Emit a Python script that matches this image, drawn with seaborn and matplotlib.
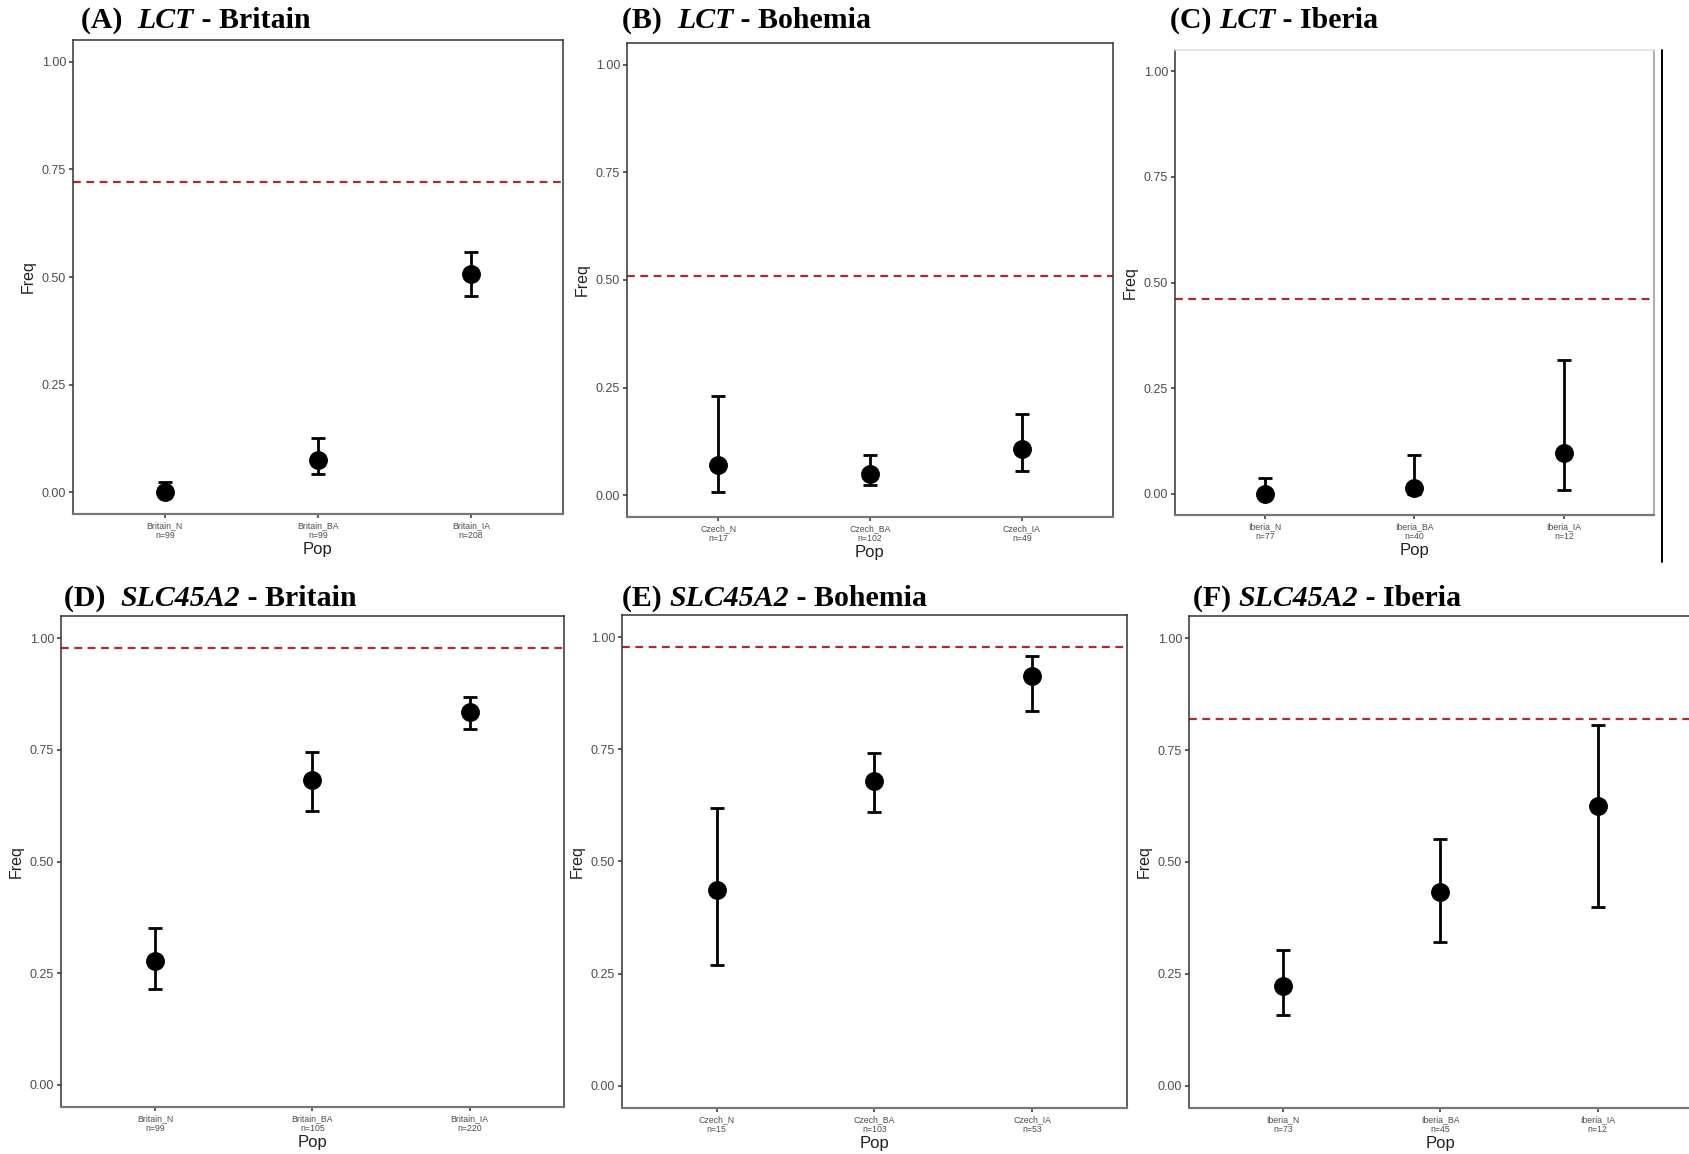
import matplotlib
matplotlib.use("Agg")
import matplotlib.pyplot as plt
import seaborn as sns
import pandas as pd
import numpy as np
from matplotlib.lines import Line2D

sns.set_theme(style="white")
plt.rcParams['font.family'] = ['Liberation Sans', 'DejaVu Sans']

# ---------------- data ----------------
panel_letters = ["A", "B", "C", "D", "E", "F"]
panel_genes = ["LCT", "LCT", "LCT", "SLC45A2", "SLC45A2", "SLC45A2"]
panel_regions = ["Britain", "Bohemia", "Iberia", "Britain", "Bohemia", "Iberia"]
panel_gaps = ["  ", "  ", " ", "  ", " ", " "]

pops_A = ["Britain_N\nn=99", "Britain_BA\nn=99", "Britain_IA\nn=208"]
freq_A = [0.0, 0.075, 0.506]
low_A = [0.0, 0.042, 0.456]
high_A = [0.025, 0.127, 0.559]
ref_A = 0.72

pops_B = ["Czech_N\nn=17", "Czech_BA\nn=102", "Czech_IA\nn=49"]
freq_B = [0.070, 0.050, 0.107]
low_B = [0.007, 0.025, 0.057]
high_B = [0.231, 0.095, 0.190]
ref_B = 0.51

pops_C = ["Iberia_N\nn=77", "Iberia_BA\nn=40", "Iberia_IA\nn=12"]
freq_C = [0.0, 0.013, 0.096]
low_C = [0.0, 0.0, 0.010]
high_C = [0.038, 0.091, 0.317]
ref_C = 0.462

pops_D = ["Britain_N\nn=99", "Britain_BA\nn=105", "Britain_IA\nn=220"]
freq_D = [0.278, 0.683, 0.835]
low_D = [0.215, 0.613, 0.797]
high_D = [0.351, 0.746, 0.869]
ref_D = 0.978

pops_E = ["Czech_N\nn=15", "Czech_BA\nn=103", "Czech_IA\nn=53"]
freq_E = [0.436, 0.680, 0.913]
low_E = [0.270, 0.610, 0.836]
high_E = [0.619, 0.742, 0.959]
ref_E = 0.978

pops_F = ["Iberia_N\nn=73", "Iberia_BA\nn=45", "Iberia_IA\nn=12"]
freq_F = [0.222, 0.432, 0.626]
low_F = [0.157, 0.321, 0.399]
high_F = [0.304, 0.551, 0.807]
ref_F = 0.819

panels = [
    (pops_A, freq_A, low_A, high_A, ref_A),
    (pops_B, freq_B, low_B, high_B, ref_B),
    (pops_C, freq_C, low_C, high_C, ref_C),
    (pops_D, freq_D, low_D, high_D, ref_D),
    (pops_E, freq_E, low_E, high_E, ref_E),
    (pops_F, freq_F, low_F, high_F, ref_F),
]

# ---------------- layout (pixel boxes: left, right, top, bottom) ----------------
W, H = 1690, 1154
boxes = [
    (73, 563, 40, 514),
    (627, 1113, 43, 517),
    (1175, 1654, 50, 515),
    (61, 564, 616, 1107),
    (622, 1127, 615, 1108),
    (1189, 1692, 616, 1108),
]
title_pos = [(81, 21), (622, 21), (1170, 21), (64, 599), (622, 599), (1193, 599)]

fig = plt.figure(figsize=(W / 100, H / 100), dpi=100)
fig.patch.set_facecolor("white")

red = "#B8262E"
grey_txt = "#4D4D4D"

for i, (pops, freq, low, high, ref) in enumerate(panels):
    l, r, t, b = boxes[i]
    ax = fig.add_axes([l / W, 1 - b / H, (r - l) / W, (b - t) / H])
    df = pd.DataFrame({"Pop": pops, "Freq": freq, "low": low, "high": high})
    df["x"] = np.arange(len(df))
    ax.axhline(ref, color=red, linestyle=(0, (3.5, 2.5)), linewidth=1.6, zorder=1)
    ax.errorbar(df["x"], df["Freq"],
                yerr=[df["Freq"] - df["low"], df["high"] - df["Freq"]],
                fmt="none", ecolor="black", elinewidth=2, capsize=5, capthick=2, zorder=2)
    sns.scatterplot(data=df, x="x", y="Freq", s=185, color="black", edgecolor="black",
                    linewidth=0, ax=ax, zorder=3, legend=False)
    ax.set_xlim(-0.6, 2.6)
    ax.set_ylim(-0.05, 1.05)
    ax.set_xticks(df["x"])
    ax.set_xticklabels(pops, fontsize=6.3, color=grey_txt, linespacing=1.1)
    ax.set_yticks([0, 0.25, 0.5, 0.75, 1.0])
    ax.set_yticklabels(["0.00", "0.25", "0.50", "0.75", "1.00"], fontsize=9, color=grey_txt)
    ax.tick_params(axis="both", which="both", length=3, width=1.1, color="#333333",
                   bottom=True, left=True, pad=2)
    ax.set_xlabel("Pop", fontsize=12, color="#222222", labelpad=2)
    ax.set_ylabel("Freq", fontsize=11.5, color="#222222", labelpad=4)
    for side, sp in ax.spines.items():
        sp.set_visible(True)
        sp.set_color("#333333")
        sp.set_linewidth(1.1)
    ax.spines["bottom"].set_color("#777777")
    ax.spines["bottom"].set_linewidth(1.6)
    if i == 2:
        ax.spines["top"].set_color("#DDDDDD")
        ax.spines["right"].set_color("#999999")
    ax.grid(False)
    ax.set_facecolor("white")

# titles: bold serif with italic gene name
fig.canvas.draw()
renderer = fig.canvas.get_renderer()
for i in range(6):
    x0, y0 = title_pos[i]
    parts = [(f"({panel_letters[i]}){panel_gaps[i]}", "normal"),
             (panel_genes[i], "italic"),
             (f" - {panel_regions[i]}", "normal")]
    xc = x0 / W
    for txt, style in parts:
        tobj = fig.text(xc, 1 - y0 / H, txt, fontsize=21.5, fontweight="bold", fontstyle=style,
                        family=["Liberation Serif", "DejaVu Serif"], va="center", ha="left",
                        color="black")
        bb = tobj.get_window_extent(renderer=renderer)
        xc += bb.width / W

# vertical separator line at right of panel C
fig.add_artist(Line2D([1662 / W, 1662 / W], [1 - 50 / H, 1 - 562 / H],
                      color="black", linewidth=1.4, transform=fig.transFigure))

fig.savefig("out.png", dpi=100, facecolor="white")
